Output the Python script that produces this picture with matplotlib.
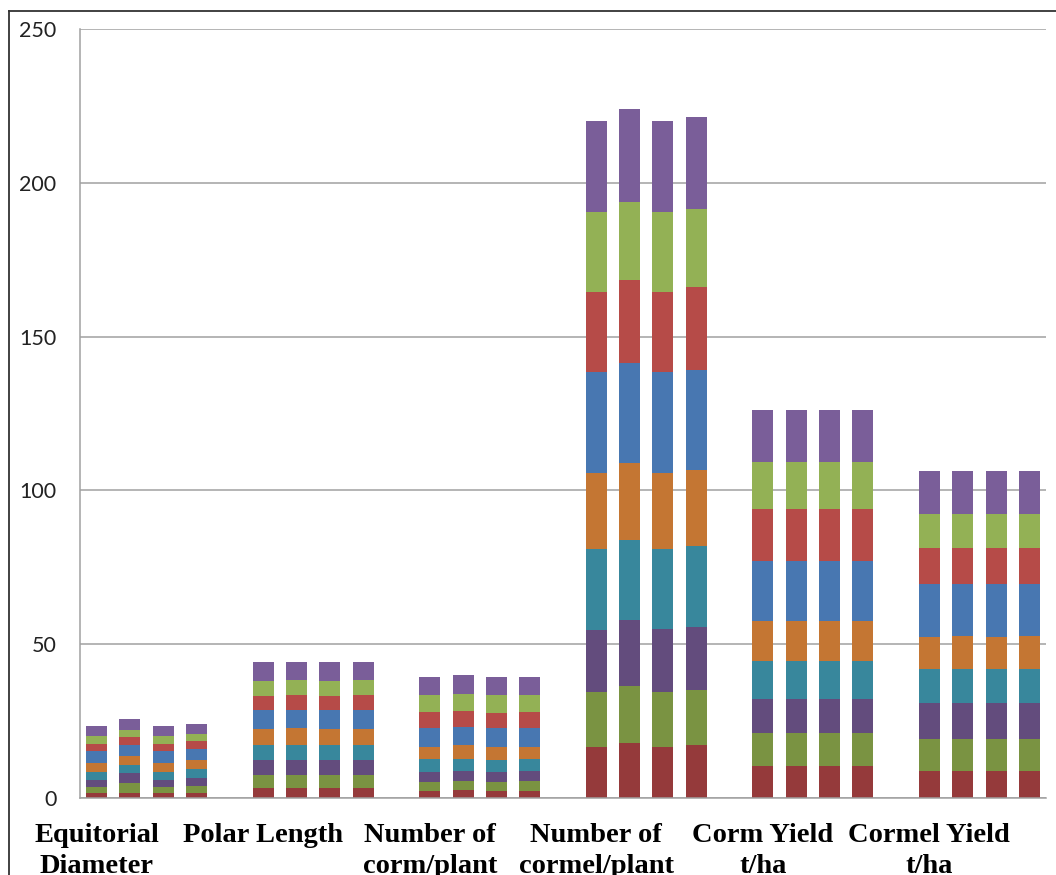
import matplotlib
matplotlib.use("Agg")
import matplotlib.pyplot as plt
import numpy as np
from matplotlib.lines import Line2D

# each category: 4 bars, each bar split into 9 stacked parts (bottom to top)
equitorial = [
    [1.5, 2.2, 2.3, 2.6, 2.8, 3.9, 2.2, 2.5, 3.4],
    [1.5, 3.3, 3.3, 2.7, 2.9, 3.6, 2.6, 2.3, 3.4],
    [1.5, 2.2, 2.3, 2.6, 2.8, 3.9, 2.2, 2.5, 3.4],
    [1.5, 2.5, 2.6, 2.8, 2.9, 3.6, 2.6, 2.3, 3.4],
]
polar = [
    [3.4, 4.0, 4.9, 4.8, 5.2, 6.2, 4.6, 4.9, 6.2],
    [3.4, 4.0, 4.9, 4.8, 5.7, 5.7, 4.9, 4.8, 6.0],
    [3.4, 4.0, 4.9, 4.8, 5.2, 6.2, 4.6, 4.9, 6.2],
    [3.4, 4.0, 4.9, 4.8, 5.2, 6.2, 4.9, 4.8, 6.0],
]
corm_per_plant = [
    [2.3, 2.9, 3.4, 4.0, 4.1, 6.0, 5.1, 5.6, 5.9],
    [2.6, 3.0, 3.3, 3.7, 4.5, 6.0, 5.1, 5.7, 6.0],
    [2.3, 2.9, 3.4, 3.7, 4.4, 6.0, 4.8, 5.9, 5.9],
    [2.3, 3.3, 3.3, 3.7, 4.1, 6.0, 5.1, 5.6, 5.9],
]
cormel_per_plant = [
    [16.7, 17.7, 20.3, 26.1, 24.7, 32.9, 26.2, 25.9, 29.7],
    [17.9, 18.4, 21.7, 25.9, 25.0, 32.4, 27.0, 25.4, 30.3],
    [16.7, 17.7, 20.7, 25.7, 24.7, 32.9, 26.2, 25.9, 29.7],
    [17.1, 18.1, 20.5, 26.3, 24.7, 32.6, 26.7, 25.6, 29.9],
]
corm_yield = [
    [10.5, 10.6, 11.0, 12.6, 13.0, 19.5, 16.6, 15.5, 17.0],
    [10.5, 10.6, 11.0, 12.6, 13.0, 19.5, 16.6, 15.5, 17.0],
    [10.5, 10.6, 11.0, 12.6, 13.0, 19.5, 16.6, 15.5, 17.0],
    [10.5, 10.6, 11.0, 12.6, 13.0, 19.5, 16.6, 15.5, 17.0],
]
cormel_yield = [
    [8.7, 10.6, 11.5, 11.1, 10.6, 17.0, 11.8, 11.0, 14.1],
    [8.7, 10.6, 11.7, 10.9, 10.9, 16.7, 11.8, 11.0, 14.1],
    [8.7, 10.6, 11.5, 11.1, 10.6, 17.0, 11.8, 11.0, 14.1],
    [8.7, 10.6, 11.7, 10.9, 10.9, 16.7, 11.8, 11.0, 14.1],
]

groups = [equitorial, polar, corm_per_plant, cormel_per_plant, corm_yield, cormel_yield]
group_labels = ["Equitorial\nDiameter", "Polar Length", "Number of\ncorm/plant",
                "Number of\ncormel/plant", "Corm Yield\nt/ha", "Cormel Yield\nt/ha"]

colors = ["#953a3b", "#7a9342", "#634c7d", "#38879c", "#c47633",
          "#4877b1", "#b64b48", "#93b155", "#7a5e99"]

fig = plt.figure(figsize=(10.56, 8.75), dpi=100)
ax = fig.add_axes([80 / 1056, 1 - 798 / 875, 966 / 1056, 769 / 875])

# one empty slot between groups
slot = 0
first_pos = []
for g in groups:
    first_pos.append(slot)
    for bar in g:
        bottom = 0
        for val, c in zip(bar, colors):
            ax.bar(slot, val, bottom=bottom, width=0.63, color=c, linewidth=0)
            bottom += val
        slot += 1
    slot += 1

ax.set_xlim(-0.5, 28.5)
ax.set_ylim(0, 250)
ax.set_yticks(np.arange(0, 251, 50))
ax.yaxis.grid(True, color="#a0a0a0", linewidth=1.1)
ax.set_axisbelow(True)

for s in ["top", "right"]:
    ax.spines[s].set_visible(False)
for s in ["left", "bottom"]:
    ax.spines[s].set_color("#a0a0a0")
    ax.spines[s].set_linewidth(1.1)

ax.tick_params(axis="y", length=0, pad=17, labelsize=15.5, labelcolor="#222222")
for t in ax.get_yticklabels():
    t.set_fontfamily("Lato")

ax.set_xticks(first_pos)
ax.set_xticklabels(group_labels, fontfamily="Liberation Serif", fontweight="bold",
                   fontsize=20.5, linespacing=1.3)
ax.tick_params(axis="x", length=0, pad=18)

# chart frame
fig.add_artist(Line2D([9 / 1056, 9 / 1056], [0, 1 - 11 / 875], transform=fig.transFigure,
                      color="#333333", linewidth=1.3))
fig.add_artist(Line2D([9 / 1056, 1], [1 - 11 / 875, 1 - 11 / 875], transform=fig.transFigure,
                      color="#333333", linewidth=1.3))

fig.savefig("out.png", dpi=100)
